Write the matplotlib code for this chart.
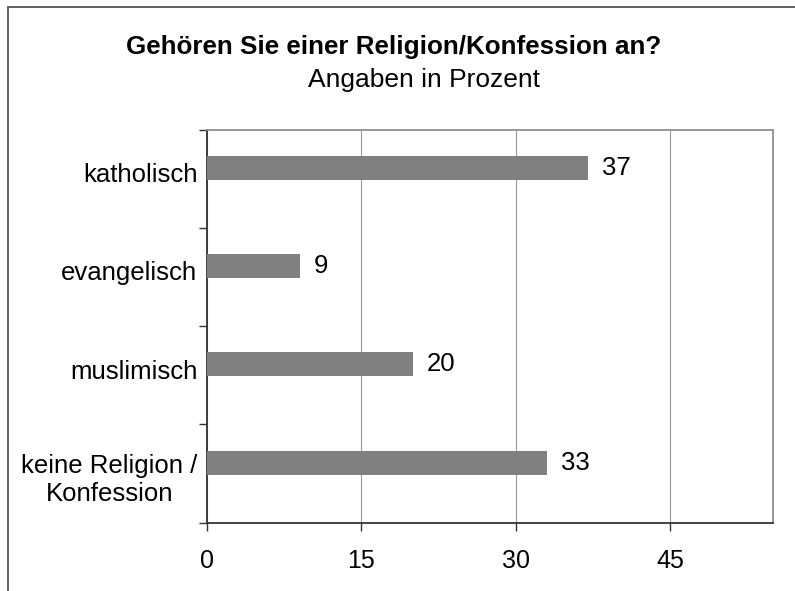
import matplotlib
matplotlib.use("Agg")
import matplotlib.pyplot as plt
from matplotlib.patches import Rectangle
from matplotlib.transforms import offset_copy

plt.rcParams['font.family'] = ['Liberation Sans', 'DejaVu Sans']

categories = ["katholisch", "evangelisch", "muslimisch", "keine Religion /\nKonfession"]
values = [37, 9, 20, 33]
xticks = [0, 15, 30, 45]
title = "Gehören Sie einer Religion/Konfession an?"
subtitle = "Angaben in Prozent"

W, H = 795, 591
fig = plt.figure(figsize=(W / 100, H / 100), dpi=100)
ax = fig.add_axes([207 / W, 1 - 522.5 / H, (773 - 207) / W, (522.5 - 129.5) / H])

pos = list(range(len(categories)))
bar_pos = [p - 0.11 for p in pos]
ax.barh(bar_pos, values, height=0.245, color="#808080", zorder=3)

ax.set_xlim(0, 55)
ax.set_ylim(len(categories) - 0.5, -0.5)

ax.set_xticks(xticks)
ax.set_xticklabels([str(t) for t in xticks], fontsize=18)
ax.tick_params(axis='x', direction='out', length=6, width=1, color='#333333', pad=13)

ax.set_yticks([p - 0.5 for p in range(len(categories) + 1)], minor=True)
ax.set_yticks([p - (0.06 if '\n' not in c else -0.02) for p, c in zip(pos, categories)])
ax.set_yticklabels(categories, fontsize=18.5)
for lbl in ax.get_yticklabels():
    lbl.set_multialignment('center')
ax.tick_params(axis='y', which='major', length=0, pad=7)
ax.tick_params(axis='y', which='minor', direction='out', length=6, width=1, color='#333333')

ax.grid(axis='x', color='#999999', linewidth=0.8, zorder=0)
ax.set_axisbelow(True)

for s in ['left', 'bottom']:
    ax.spines[s].set_color('#333333')
    ax.spines[s].set_linewidth(1.3)
for s in ['top', 'right']:
    ax.spines[s].set_color('#909090')
    ax.spines[s].set_linewidth(1.3)

for b, v in zip(bar_pos, values):
    t = offset_copy(ax.transData, fig=fig, x=14, y=0, units='dots')
    ax.text(v, b, str(v), transform=t, ha='left', va='center', fontsize=18.5)

fig.text(394 / W, 1 - 54 / H, title, ha='center', va='baseline', fontsize=18.7, fontweight='bold')
fig.text(424 / W, 1 - 87 / H, subtitle, ha='center', va='baseline', fontsize=19)

fig.patches.append(Rectangle((8 / W, -0.1), 1.2, 1.1 - 7 / H, transform=fig.transFigure,
                             fill=False, edgecolor='#555555', linewidth=1.3))

fig.savefig("out.png", dpi=100)
